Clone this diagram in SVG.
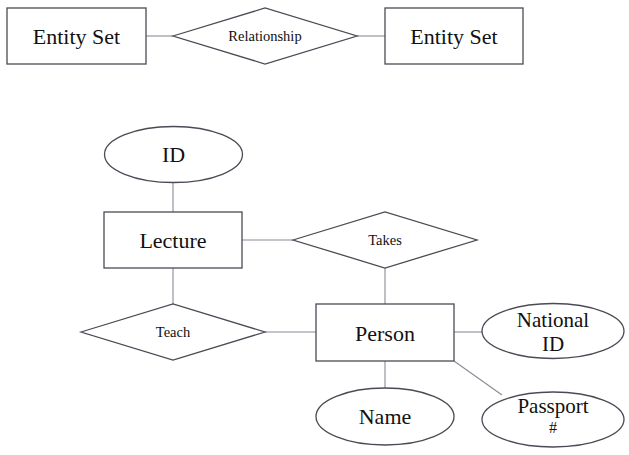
<svg xmlns="http://www.w3.org/2000/svg" width="629" height="455" viewBox="0 0 629 455">
<style>
.shape{fill:#fff;stroke:#4a4a55;stroke-width:1.3}
.conn line{stroke:#8a8a95;stroke-width:1.1}
text{font-family:"Liberation Serif","Times New Roman",serif;fill:#111;text-anchor:middle}
.big{font-size:22px}
.mid{font-size:21px}
.small{font-size:14.5px}
</style>
<rect width="629" height="455" fill="#fff"/>
<g id="connectors" class="conn">
<line x1="146" y1="36" x2="173" y2="36"/>
<line x1="357" y1="36" x2="385" y2="36"/>
<line x1="173" y1="182.5" x2="173" y2="212"/>
<line x1="242" y1="240" x2="293" y2="240"/>
<line x1="385" y1="268" x2="385" y2="304"/>
<line x1="173" y1="268" x2="173" y2="304"/>
<line x1="265" y1="332" x2="316" y2="332"/>
<line x1="454" y1="332" x2="482" y2="332"/>
<line x1="385" y1="361" x2="385" y2="388"/>
<line x1="454" y1="361" x2="502" y2="395"/>
</g>
<g id="entity1"><rect class="shape" x="7" y="8" width="139" height="56"/><text class="big" x="76.5" y="44">Entity Set</text></g>
<g id="relationship"><polygon class="shape" points="173,36 265,8 357,36 265,64"/><text class="small" x="265" y="41">Relationship</text></g>
<g id="entity2"><rect class="shape" x="385" y="8" width="138" height="56"/><text class="big" x="454" y="44">Entity Set</text></g>
<g id="id"><ellipse class="shape" cx="173.5" cy="154.5" rx="69" ry="28"/><text class="big" x="173.5" y="162">ID</text></g>
<g id="lecture"><rect class="shape" x="104" y="212" width="138" height="56"/><text class="big" x="173" y="248">Lecture</text></g>
<g id="takes"><polygon class="shape" points="293,240 385,212 477,240 385,268"/><text class="small" x="385" y="245">Takes</text></g>
<g id="teach"><polygon class="shape" points="81,332 173,304 265,332 173,360"/><text class="small" x="173" y="337">Teach</text></g>
<g id="person"><rect class="shape" x="316" y="304" width="138" height="57"/><text class="big" x="385" y="340.5">Person</text></g>
<g id="national-id"><ellipse class="shape" cx="553" cy="331" rx="71" ry="27.5"/><text class="mid" x="553" y="326.5">National<tspan x="553" y="350.5">ID</tspan></text></g>
<g id="name"><ellipse class="shape" cx="385" cy="416.5" rx="69" ry="28.5"/><text class="big" x="385" y="423.5">Name</text></g>
<g id="passport"><ellipse class="shape" cx="553" cy="419.5" rx="71" ry="27.5"/><text class="mid" x="553" y="412.5">Passport<tspan x="553" y="433" style="font-size:16px">#</tspan></text></g>
</svg>
